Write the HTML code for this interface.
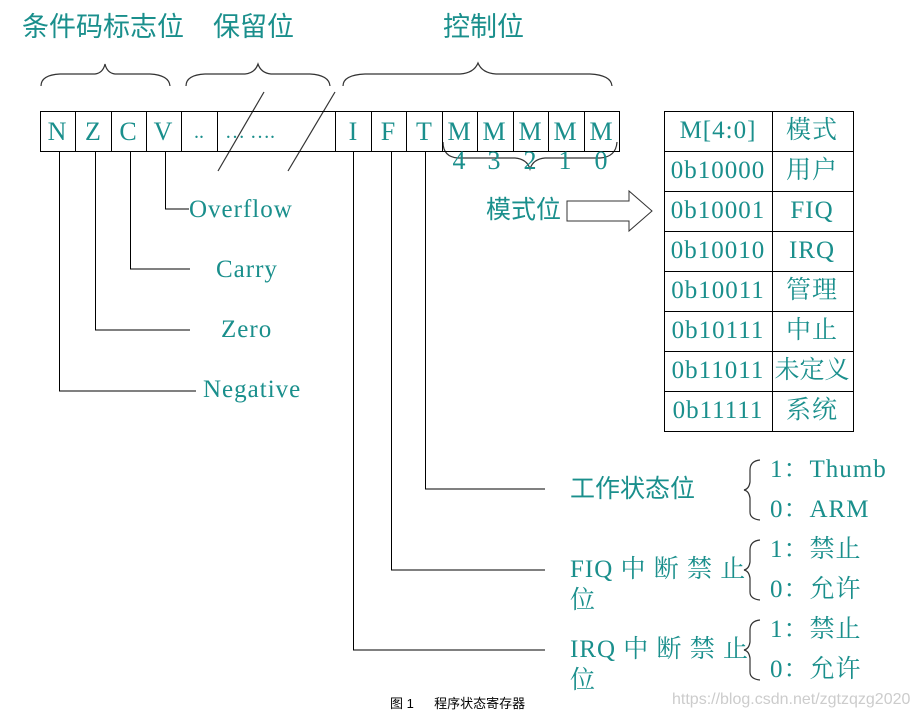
<!DOCTYPE html>
<html><head><meta charset="utf-8"><style>
html,body{margin:0;padding:0;background:#fff;width:918px;height:716px;overflow:hidden}
svg text{font-family:"Liberation Serif","Noto Serif CJK SC",serif;fill:#1a8f8c}
.s{font-family:"Liberation Sans","Noto Sans CJK SC",sans-serif!important}
</style></head><body>
<svg width="918" height="716" viewBox="0 0 918 716" xmlns="http://www.w3.org/2000/svg">
<g font-size="27">
<text x="22" y="36" class="s">条件码标志位</text>
<text x="213" y="36" class="s">保留位</text>
<text x="443" y="36" class="s">控制位</text>
</g>
<g fill="none" stroke="#333" stroke-width="1.2">
<path d="M41,86 Q41,75 60,74 L95,74 Q103,73 105,64 Q107,73 115,74 L150,74 Q169,75 170,86"/>
<path d="M186,86 Q186,75 205,74 L245,74 Q255,73 258,64 Q261,73 271,74 L310,74 Q329,75 330,86"/>
<path d="M343,86 Q343,75 365,74 L460,74 Q474,73 478,63 Q482,73 496,74 L590,74 Q611,75 612,86"/>
<path d="M443,142 Q443,157 458,158 L515,158 Q527,159 530,169 Q533,159 545,158 L600,158 Q616,157 617,142"/>
<line x1="264" y1="92" x2="218" y2="171"/>
<line x1="335" y1="92" x2="288" y2="171"/>
</g>
<g fill="none" stroke="#000" stroke-width="1">
<rect x="40.5" y="111.5" width="579" height="40"/>
<path d="M75.5,111v40M111.5,111v40M146.5,111v40M181.5,111v40M217.5,111v40M335.5,111v40M371.5,111v40M406.5,111v40M442.5,111v40M477.5,111v40M513.5,111v40M548.5,111v40M584.5,111v40"/>
<path d="M59.5,151V391H196M95.5,151V330H190M130.5,151V269H190M165.5,151V209H189"/>
<path d="M353.5,151V650H545M391.5,151V570H545M425.5,151V489H545"/>
<path d="M567,201H629V191L652,211L629,231V221H567Z" stroke="#333"/>
<rect x="664.5" y="111.5" width="189" height="320"/>
<path d="M772.5,111v320M664,151.5h189M664,191.5h189M664,231.5h189M664,271.5h189M664,311.5h189M664,351.5h189M664,391.5h189"/>
</g>
<g fill="none" stroke="#333" stroke-width="1.2">
<path d="M760,460 Q750,461 750,470 L750,482 Q749,489 744,490 Q749,491 750,498 L750,512 Q750,519 760,520"/>
<path d="M760,540 Q750,541 750,550 L750,562 Q749,569 744,570 Q749,571 750,578 L750,592 Q750,599 760,600"/>
<path d="M760,620 Q750,621 750,630 L750,642 Q749,649 744,650 Q749,651 750,658 L750,672 Q750,679 760,680"/>
</g>
<g font-size="26" text-anchor="middle">
<text x="57" y="140">N</text><text x="93" y="140">Z</text><text x="128" y="140">C</text><text x="163" y="140">V</text>
<text x="199" y="138" font-size="20">..</text><text x="250" y="138" font-size="20">… ….</text>
<text x="353" y="140">I</text><text x="388" y="140">F</text><text x="424" y="140">T</text>
<text x="459" y="140">M</text><text x="494" y="140">M</text><text x="530" y="140">M</text><text x="565" y="140">M</text><text x="601" y="140">M</text>
<text x="459" y="169">4</text><text x="494" y="169">3</text><text x="530" y="169">2</text><text x="565" y="169">1</text><text x="601" y="169">0</text>
</g>
<g font-size="25" letter-spacing="1">
<text x="189" y="217">Overflow</text>
<text x="216" y="277">Carry</text>
<text x="221" y="337">Zero</text>
<text x="203" y="397">Negative</text>
<text x="486" y="218" class="s" letter-spacing="0">模式位</text>
<text x="570" y="497" class="s" letter-spacing="0">工作状态位</text>
<text x="570" y="577">FIQ 中 断 禁 止</text><text x="570" y="608">位</text>
<text x="570" y="657">IRQ 中 断 禁 止</text><text x="570" y="688">位</text>
<text x="770" y="477">1：Thumb</text><text x="770" y="517">0：ARM</text>
<text x="770" y="557">1：禁止</text><text x="770" y="597">0：允许</text>
<text x="770" y="637">1：禁止</text><text x="770" y="677">0：允许</text>
</g>
<g font-size="25" text-anchor="middle" letter-spacing="1">
<text x="718" y="138">M[4:0]</text><text x="812" y="138">模式</text>
<text x="718" y="178">0b10000</text><text x="812" y="178">用户</text>
<text x="718" y="218">0b10001</text><text x="812" y="218">FIQ</text>
<text x="718" y="258">0b10010</text><text x="812" y="258">IRQ</text>
<text x="718" y="298">0b10011</text><text x="812" y="298">管理</text>
<text x="718" y="338">0b10111</text><text x="812" y="338">中止</text>
<text x="718" y="378">0b11011</text><text x="812" y="378" letter-spacing="0">未定义</text>
<text x="718" y="418">0b11111</text><text x="812" y="418">系统</text>
</g>
<text x="390" y="708" font-size="13" class="s" style="fill:#000">图 1 　 程序状态寄存器</text>
<text x="672" y="704" font-size="16" class="s" style="fill:#ccc">https://blog.csdn.net/zgtzqzg2020</text>
</svg>
</body></html>
